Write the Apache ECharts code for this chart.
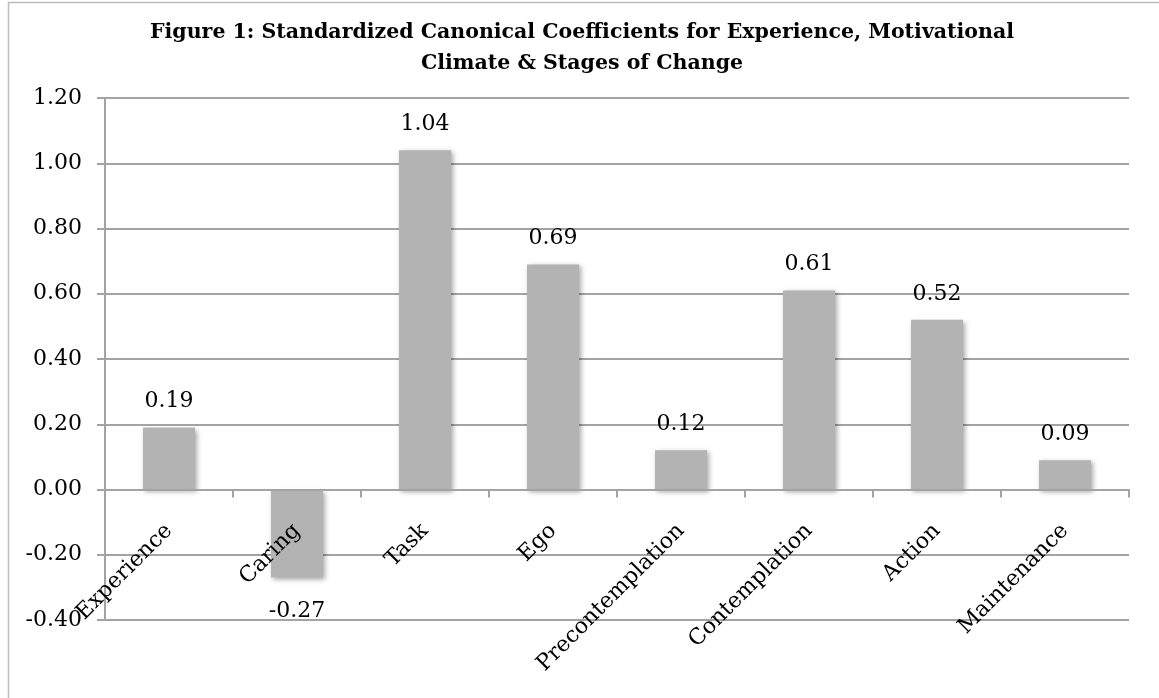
<!DOCTYPE html>
<html>
<head>
<meta charset="utf-8">
<script src="https://cdn.jsdelivr.net/npm/echarts@6/dist/echarts.min.js"></script>
<style>
  html, body { margin: 0; padding: 0; background: #fff; }
  #chart { width: 1159px; height: 698px; }
</style>
</head>
<body>
<div id="chart"></div>
<script>
// Canonical coefficients by predictor
const categories = ['Experience', 'Caring', 'Task', 'Ego', 'Precontemplation', 'Contemplation', 'Action', 'Maintenance'];
const coefficients = [0.19, -0.27, 1.04, 0.69, 0.12, 0.61, 0.52, 0.09];
const yTicks = { min: -0.4, max: 1.2, interval: 0.2 };
const titleText = 'Figure 1: Standardized Canonical Coefficients for Experience, Motivational\nClimate & Stages of Change';

const serif = 'DejaVu Serif';
const gridColor = '#a3a3a3';

const chart = echarts.init(document.getElementById('chart'), null, { renderer: 'canvas' });

// negative bars carry their value label underneath
const barData = coefficients.map(v => ({
  value: v,
  label: v < 0 ? { position: 'bottom', distance: 23 } : { position: 'top', distance: 15 }
}));

const option = {
  animation: false,
  backgroundColor: '#ffffff',
  graphic: [{
    type: 'rect',
    shape: { x: 8.5, y: 2.5, width: 1200, height: 800 },
    style: { fill: 'none', stroke: '#bdbdbd', lineWidth: 1.5 },
    silent: true
  }],
  title: {
    text: titleText,
    left: 577,
    top: 12,
    textAlign: 'center',
    textStyle: {
      fontFamily: serif,
      fontWeight: 'bold',
      fontSize: 20.5,
      lineHeight: 31,
      color: '#000'
    }
  },
  grid: { left: 105, right: 30, top: 98, bottom: 78, containLabel: false, outerBoundsMode: 'none' },
  xAxis: {
    type: 'category',
    data: categories,
    position: 'bottom',
    offset: 0,
    z: 3,
    axisLine: { onZero: false, lineStyle: { color: gridColor, width: 2 } },
    axisTick: { show: true, alignWithLabel: false, length: 8, lineStyle: { color: gridColor, width: 2 } },
    axisLabel: {
      interval: 0,
      rotate: 45,
      margin: 38,
      fontFamily: serif,
      fontSize: 22,
      color: '#000'
    },
    splitLine: { show: false }
  },
  yAxis: {
    type: 'value',
    min: yTicks.min,
    max: yTicks.max,
    interval: yTicks.interval,
    axisLine: { show: true, lineStyle: { color: gridColor, width: 2 } },
    axisTick: { show: true, length: 8, lineStyle: { color: gridColor, width: 2 } },
    axisLabel: {
      margin: 23,
      fontFamily: serif,
      fontSize: 22,
      color: '#000',
      formatter: v => v.toFixed(2)
    },
    splitLine: { show: true, lineStyle: { color: gridColor, width: 2 } }
  },
  series: [{
    type: 'bar',
    data: barData,
    barWidth: 52,
    itemStyle: {
      color: '#b3b3b3',
      shadowColor: 'rgba(0,0,0,0.35)',
      shadowBlur: 5,
      shadowOffsetX: 2,
      shadowOffsetY: 2
    },
    label: {
      show: true,
      fontFamily: serif,
      fontSize: 22,
      color: '#000',
      formatter: p => p.value.toFixed(2)
    }
  }]
};

chart.setOption(option);

// lift the category axis (line, ticks and labels) up to the zero value
const zeroY = chart.convertToPixel({ yAxisIndex: 0 }, 0);
const floorY = chart.convertToPixel({ yAxisIndex: 0 }, yTicks.min);
chart.setOption({ xAxis: { offset: -(floorY - zeroY) } });
</script>
</body>
</html>
